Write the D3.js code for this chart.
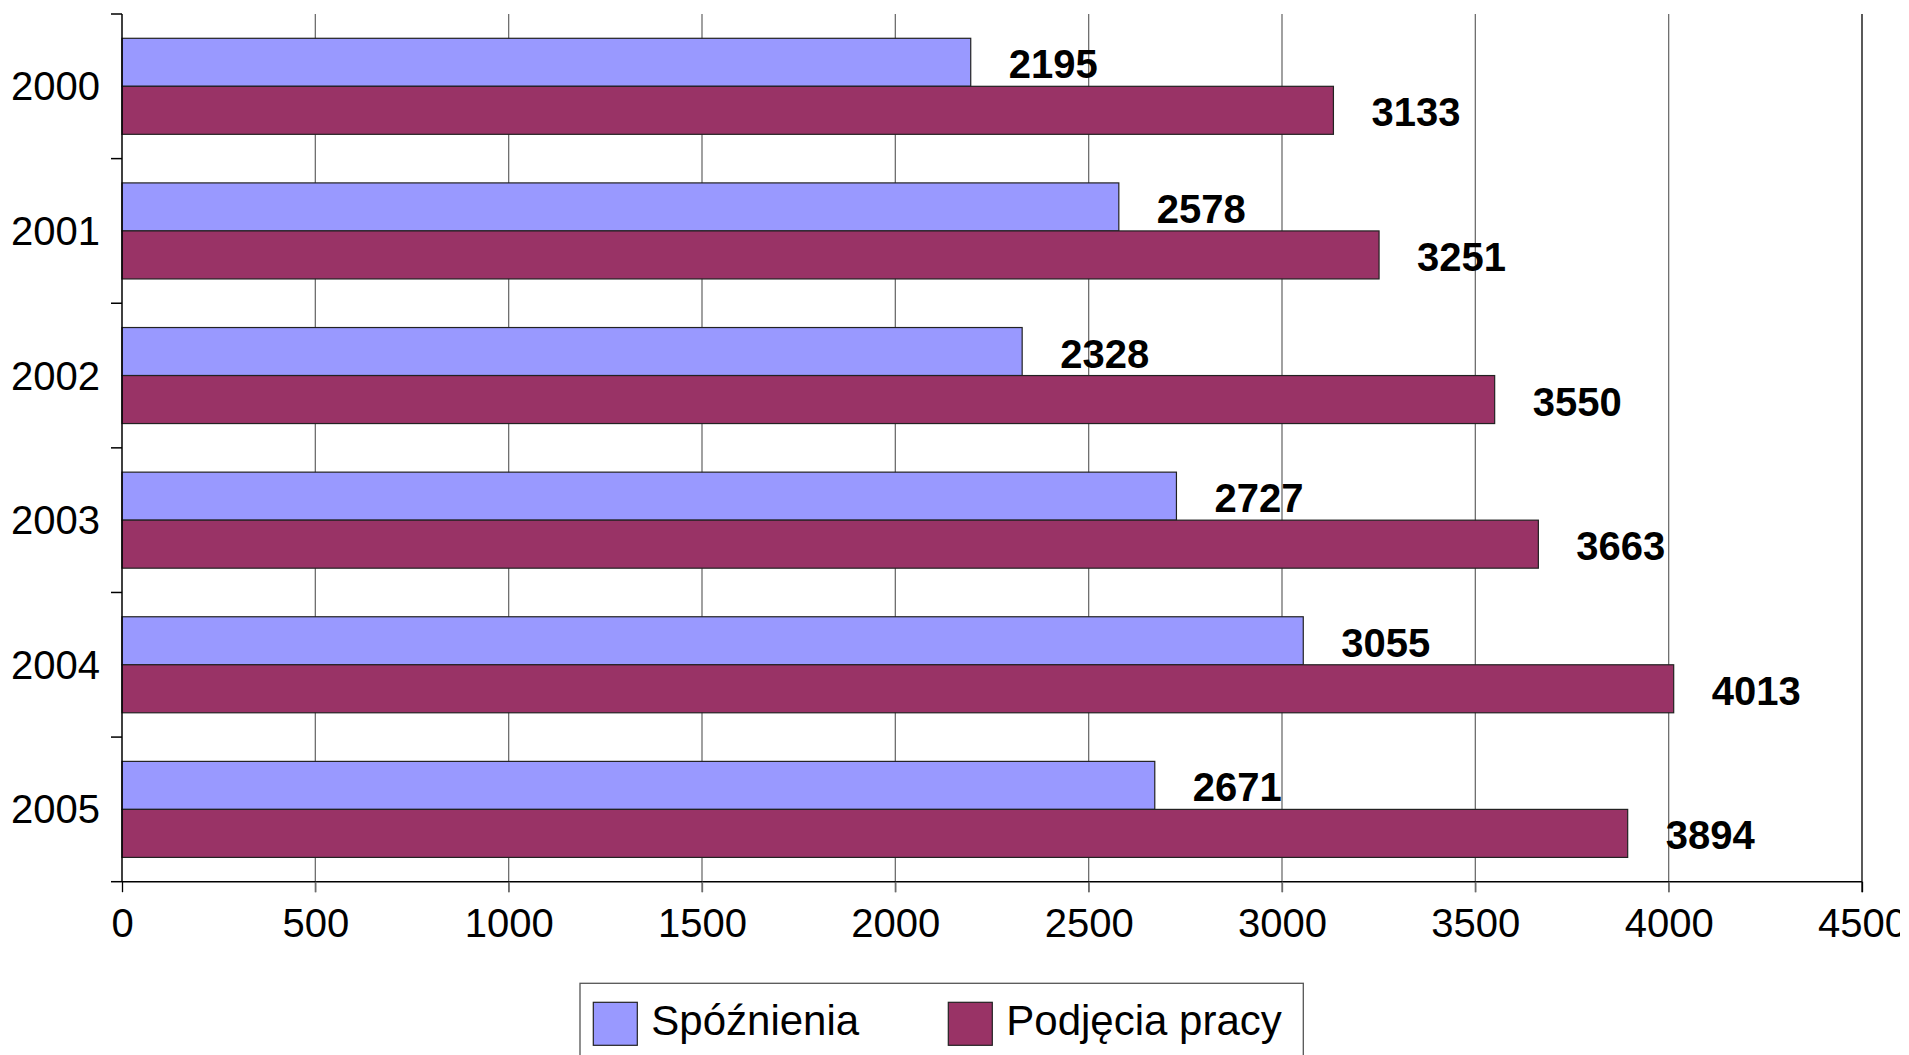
<!DOCTYPE html>
<html>
<head>
<meta charset="utf-8">
<script src="https://cdn.jsdelivr.net/npm/d3@7"></script>
<style>
  html, body { margin: 0; padding: 0; background: #fff; }
  svg { display: block; overflow: hidden; }
  text { font-family: "Liberation Sans", Arial, sans-serif; fill: #000; }
</style>
</head>
<body>
<svg id="chart" width="1900" height="1055"></svg>
<script>
const years = ["2000", "2001", "2002", "2003", "2004", "2005"];
const seriesNames = ["Spóźnienia", "Podjęcia pracy"];
const spoznienia = [2195, 2578, 2328, 2727, 3055, 2671];
const podjecia = [3133, 3251, 3550, 3663, 4013, 3894];
const xTicks = [0, 500, 1000, 1500, 2000, 2500, 3000, 3500, 4000, 4500];
const colors = ["#9999FF", "#993366"];

const seriesValues = [spoznienia, podjecia];

(function () {
const svg = d3.select("#chart");
const pLeft = 122, pRight = 1862, pTop = 14, pBottom = 881.7;

const x = d3.scaleLinear().domain([0, 4500]).range([pLeft, pRight]);
const y0 = d3.scaleBand().domain(years).range([pTop, pBottom]).padding(0);
const y1 = d3.scaleBand().domain(seriesNames).range([0, y0.bandwidth()]).paddingInner(0).paddingOuter(0.506);

// gridlines
svg.append("g").selectAll("line").data(xTicks.slice(1)).join("line")
  .attr("x1", d => x(d)).attr("x2", d => x(d))
  .attr("y1", pTop).attr("y2", pBottom + 10.5)
  .attr("stroke", (d, i, a) => i === a.length - 1 ? "#000" : "#6e6e6e")
  .attr("stroke-width", 1.3);

// bars
const groups = svg.append("g").selectAll("g").data(years).join("g")
  .attr("transform", d => `translate(0,${y0(d)})`);

groups.selectAll("rect").data((d, i) => seriesNames.map((s, j) => ({s, v: seriesValues[j][i], j})))
  .join("rect")
  .attr("x", x(0))
  .attr("y", d => y1(d.s))
  .attr("width", d => x(d.v) - x(0))
  .attr("height", y1.bandwidth())
  .attr("fill", d => colors[d.j])
  .attr("stroke", "#222")
  .attr("stroke-width", 1.2);

groups.selectAll("text").data((d, i) => seriesNames.map((s, j) => ({s, v: seriesValues[j][i], j})))
  .join("text")
  .attr("x", d => x(d.v) + 38)
  .attr("y", d => y1(d.s) + y1.bandwidth() / 2 + 16)
  .attr("font-size", 40)
  .attr("font-weight", "bold")
  .text(d => d.v);

// x axis
const xAxis = d3.axisBottom(x).tickValues(xTicks).tickSize(10.5).tickFormat(d3.format("d"));
const gx = svg.append("g").attr("transform", `translate(0,${pBottom})`).call(xAxis);
gx.select(".domain").attr("stroke", "#000").attr("stroke-width", 1.5).attr("d", `M${pLeft},0H${pRight}`);
gx.selectAll(".tick line").attr("stroke", (d) => d === 0 || d === 4500 ? "#000" : "#6e6e6e").attr("stroke-width", 1.3);
gx.selectAll(".tick text").attr("font-size", 40).attr("font-family", "Liberation Sans, Arial, sans-serif")
  .attr("fill", "#000").attr("dy", null).attr("y", 55);

// y axis
const yAxis = d3.axisLeft(y0).tickSize(0).tickPadding(22);
const gy = svg.append("g").attr("transform", `translate(${pLeft},0)`).call(yAxis);
gy.select(".domain").attr("stroke", "#000").attr("stroke-width", 1.5).attr("d", `M0,${pTop}V${pBottom}`);
gy.selectAll(".tick text").attr("font-size", 40).attr("font-family", "Liberation Sans, Arial, sans-serif")
  .attr("fill", "#000").attr("dy", "0.35em");
// y category boundary ticks
const bounds = years.map(d => y0(d)).concat([pBottom]);
svg.append("g").selectAll("line").data(bounds).join("line")
  .attr("x1", pLeft - 11).attr("x2", pLeft)
  .attr("y1", d => d).attr("y2", d => d)
  .attr("stroke", "#000").attr("stroke-width", 1.5);

// legend
const lg = svg.append("g");
lg.append("rect").attr("x", 580).attr("y", 983.3).attr("width", 723.3).attr("height", 120)
  .attr("fill", "#fff").attr("stroke", "#555").attr("stroke-width", 1.3);
const legendX = [593.3, 948.3];
seriesNames.forEach((s, j) => {
  lg.append("rect").attr("x", legendX[j]).attr("y", 1002.3).attr("width", 44).attr("height", 43)
    .attr("fill", colors[j]).attr("stroke", "#222").attr("stroke-width", 1.2);
  lg.append("text").attr("x", legendX[j] + 58).attr("y", 1035).attr("font-size", 42).text(s);
});
})();
</script>
</body>
</html>
